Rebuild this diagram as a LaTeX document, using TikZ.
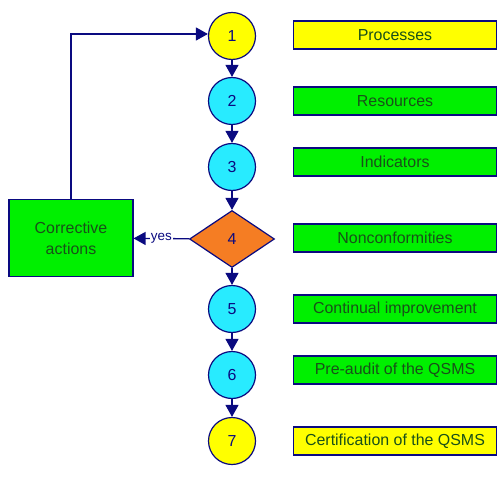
\documentclass[tikz,border=0pt]{standalone}
\usepackage{fontspec}
\setmainfont{Liberation Sans}
\usetikzlibrary{shapes.geometric}
\usetikzlibrary{arrows.meta}
\definecolor{navy}{RGB}{10,10,128}
\definecolor{stepyellow}{RGB}{255,255,0}
\definecolor{stepcyan}{RGB}{40,235,255}
\definecolor{boxgreen}{RGB}{0,240,0}
\definecolor{steporange}{RGB}{245,125,35}
\definecolor{textgreen}{RGB}{25,80,25}
\tikzset{stage/.style={circle, draw=navy, line width=1.2bp, minimum size=47bp, inner sep=0pt, text=navy, font=\fontsize{16}{18}\selectfont}}
\tikzset{label box/.style={rectangle, draw=navy, line width=1.1bp, minimum width=203bp, minimum height=28bp, inner sep=0pt, text=textgreen, font=\fontsize{16}{18}\selectfont}}
\tikzset{flow/.style={draw=navy, line width=1.3bp, -{Triangle[length=12bp,width=13bp]}}}

\begin{document}
\begin{tikzpicture}[x=1bp,y=-1bp]
  \useasboundingbox (0,0) rectangle (504,477);
  \foreach \y/\col/\lab in {
    36/stepyellow/1,
    101/stepcyan/2,
    167/stepcyan/3,
    309/stepcyan/5,
    375/stepcyan/6,
    441/stepyellow/7%
  } {
    \node[stage, fill=\col] (s\lab) at (232, \y) {\lab};
  }
  \node[diamond, draw=navy, line width=1.2bp, fill=steporange, minimum width=85bp, minimum height=57bp, inner sep=0pt, text=navy, font=\fontsize{16}{18}\selectfont] (s4) at (232, 239) {4};
  \foreach \y/\col/\name/\txt in {
    35/stepyellow/b1/Processes,
    101/boxgreen/b2/Resources,
    162/boxgreen/b3/Indicators,
    238/boxgreen/b4/Nonconformities,
    309/boxgreen/b5/Continual improvement,
    370/boxgreen/b6/Pre-audit of the QSMS,
    441/stepyellow/b7/Certification of the QSMS%
  } {
    \node[label box, fill=\col] (\name) at (395, \y) {\txt};
  }
  \node[rectangle, draw=navy, line width=1.1bp, fill=boxgreen, minimum width=124bp, minimum height=77bp, align=center, text=textgreen, font=\fontsize{16}{21}\selectfont] (ca) at (71, 238) {Corrective\\actions};
  \foreach \u/\v in {1/2, 2/3, 3/4, 4/5, 5/6, 6/7} {
    \draw[flow] (s\u) -- (s\v);
  }
  \draw[flow] (s4) -- node[fill=white, inner sep=1pt, text=navy, font=\fontsize{13.5}{15}\selectfont] {yes} (ca);
  \draw[flow] (ca.north) -- (ca.north |- 0,34) -- (s1.west |- 0,34);
\end{tikzpicture}
\end{document}
